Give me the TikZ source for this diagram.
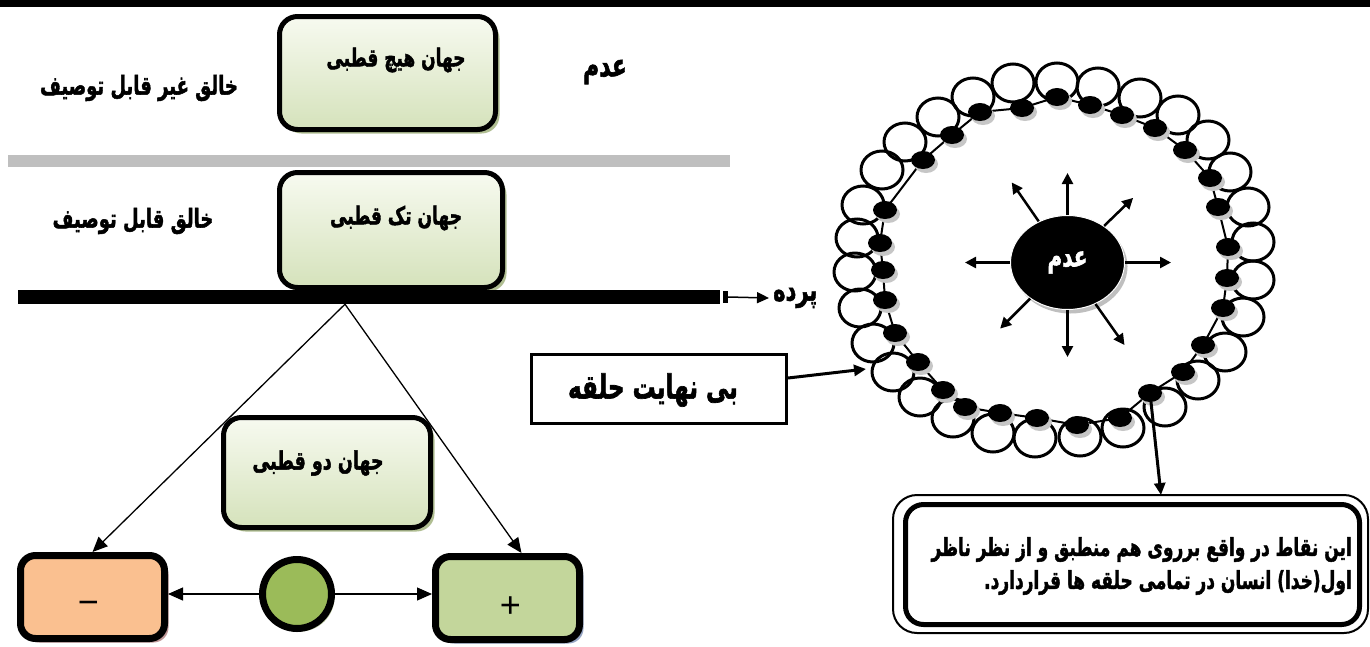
\documentclass[tikz,border=0pt]{standalone}
\usepackage{fontspec}
\usepackage{graphicx}
\usetikzlibrary{arrows.meta,shapes.geometric,shadows,calc}
\TeXXeTstate=1
\newfontfamily\fa[Script=Arabic, BoldFeatures={FakeBold=2}]{DejaVu Sans}
\newfontfamily\signfont{Liberation Sans}
\newcommand\fatx[1]{\scalebox{1}[1.45]{\fa\bfseries\beginR #1\endR}}
\definecolor{gtop}{RGB}{247,250,240}
\definecolor{gbot}{RGB}{213,226,187}
\definecolor{gshad}{RGB}{176,190,146}
\definecolor{peach}{RGB}{250,192,144}
\definecolor{peachsh}{RGB}{190,150,150}
\definecolor{lgreen}{RGB}{195,214,155}
\definecolor{lgreensh}{RGB}{150,165,195}
\definecolor{dgreen}{RGB}{155,187,89}
\definecolor{barg}{RGB}{191,191,191}
\tikzset{
  gbox/.style={draw, line width=5pt, rounded corners=18pt, top color=gtop, bottom color=gbot,
    general shadow={fill=gshad, shadow xshift=4pt, shadow yshift=-4pt}, inner sep=0pt},
  pbox/.style={draw, line width=7pt, rounded corners=15pt, inner sep=0pt,
    minimum width=144pt, minimum height=83pt},
  lbl/.style={inner sep=0pt, font=\fontsize{18}{22}\selectfont},
  sign/.style={inner sep=0pt, font=\signfont\fontsize{36}{36}\selectfont},
  thinarr/.style={line width=1.3pt, -{Triangle[length=15pt,width=13pt]}},
  thkarr/.style={line width=3pt, -{Triangle[length=12pt,width=11pt]}},
  radarr/.style={line width=2.5pt, -{Triangle[length=11pt,width=11pt]}},
  ringc/.style={line width=3pt},
}
\begin{document}
\begin{tikzpicture}[x=1pt,y=-1pt]
\useasboundingbox (0,0) rectangle (1370,646);
\fill[white] (0,0) rectangle (1370,646);
% top band and bars
\fill[black] (0,0) rectangle (1370,7);
\fill[barg] (8,155) rectangle (730,167);
% upper boxes
\node[gbox, minimum width=216pt, minimum height=113pt] (hich) at (387.5,73) {};
\node[lbl, font=\fontsize{17}{22}\selectfont] (hicht) at (396,60) {\fatx{جهان هیچ قطبی}};
\node[lbl] (khalq1) at (139,88) {\fatx{خالق غیر قابل توصیف}};
\node[lbl, font=\fontsize{22}{26}\selectfont] (adamt) at (605,72) {\fatx{عدم}};
\node[gbox, minimum width=223pt, minimum height=115pt] (tak) at (391,230) {};
\node[lbl, font=\fontsize{17}{22}\selectfont] (takt) at (396,218) {\fatx{جهان تک قطبی}};
\node[lbl] (khalq2) at (133,221) {\fatx{خالق قابل توصیف}};
% curtain
\node[fill=black, minimum width=702pt, minimum height=14pt, inner sep=0pt] (curtain) at (369,297) {};
\node[lbl, font=\fontsize{21}{24}\selectfont, anchor=west] (parde) at (773,298) {\fatx{پرده}};
\fill[black] ([xshift=3pt,yshift=-1.5pt]curtain.north east) rectangle ([xshift=8pt,yshift=1.5pt]curtain.south east);
\draw[line width=1.5pt, -{Triangle[length=12pt,width=11pt]}] ([xshift=8pt]curtain.east) -- ([xshift=-4pt]parde.west);
\coordinate (split) at ([xshift=-24pt]curtain.south);
% bipolar world
\node[gbox, minimum width=207pt, minimum height=110pt] (du) at (327,472.5) {};
\node[lbl, font=\fontsize{17.5}{22}\selectfont] (dut) at (318,463) {\fatx{جهان دو قطبی}};
\node[pbox, fill=peach, general shadow={fill=peachsh, shadow xshift=4pt, shadow yshift=-4pt}] (minus) at (92.5,597) {};
\node[sign] (minust) at ([xshift=-4pt,yshift=-11pt]minus.center) {−};
\node[pbox, fill=lgreen, general shadow={fill=lgreensh, shadow xshift=4pt, shadow yshift=-4pt}] (plus) at (507.5,598) {};
\node[sign] (plust) at ([xshift=3pt,yshift=-9pt]plus.center) {+};
\node[circle, draw, line width=7pt, fill=dgreen, minimum size=69pt, inner sep=0pt,
  general shadow={fill=gshad, shadow xshift=3pt, shadow yshift=-3pt}] (gc) at (297,594) {};
\draw[thinarr] (split) -- (minus.north);
\draw[thinarr] (split) -- ([xshift=14pt]plus.north);
\draw[thinarr] (gc.west) -- (gc.west -| minus.east);
\draw[thinarr] (gc.east) -- (gc.east -| plus.west);
% ring of circles
\foreach \p in {(1013,83),(1057,82),(1098,87),(1140,98),(1178,115),(1208,140),(1230,172),(1248,207),(1253,242),(1253,280),(1243,317),(1225,352),(1198,380),(1165,407),(1123,428),(1080,437),(1035,438),(993,433),(953,418),(920,397),(893,372),(873,343),(860,308),(855,272),(857,238),(863,205),(882,170),(905,142),(938,117),(973,97)}
  \draw[ringc] \p ellipse [x radius=21pt, y radius=19pt];
\draw[line width=2pt] (885,210) -- (923,160) -- (952,135) -- (980,112) -- (1022,108) -- (1057,97) -- (1090,105) -- (1122,115) -- (1155,128) -- (1185,150) -- (1210,178) -- (1218,207) -- (1228,247) -- (1227,278) -- (1223,308) -- (1203,345) -- (1183,372) -- (1150,393) -- (1120,418) -- (1077,425) -- (1037,418) -- (1000,413) -- (965,407) -- (943,390) -- (918,362) -- (895,333) -- (885,300) -- (883,270) -- (880,243) -- cycle;
\foreach \p in {(885,210),(923,160),(952,135),(980,112),(1022,108),(1057,97),(1090,105),(1122,115),(1155,128),(1185,150),(1210,178),(1218,207),(1228,247),(1227,278),(1223,308),(1203,345),(1183,372),(1150,393),(1120,418),(1077,425),(1037,418),(1000,413),(965,407),(943,390),(918,362),(895,333),(885,300),(883,270),(880,243)}
  {\fill[gray!45] \p ++(3,4) ellipse [x radius=12pt, y radius=9pt];
   \fill[black] \p ellipse [x radius=12pt, y radius=9pt];}
% centre
\node[ellipse, fill=black, draw=white, line width=1pt, minimum width=114pt, minimum height=94pt, inner sep=0pt,
  general shadow={fill=gray!50, shadow xshift=3pt, shadow yshift=-4pt}] (adam) at (1067.5,262.5) {\color{white}\fontsize{20}{24}\selectfont\fatx{عدم}};
\draw[radarr] (adam.north) -- ++(0,-42);
\draw[radarr] (adam.125) -- ++(-27,-39);
\draw[radarr] (adam.45) -- ++(29,-28);
\draw[radarr] (adam.west) -- ++(-45,0);
\draw[radarr] (adam.east) -- ++(46,0);
\draw[radarr] (adam.224) -- ++(-30,30);
\draw[radarr] (adam.south) -- ++(0,47);
\draw[radarr] (adam.304) -- ++(29,41);
% infinite ring label
\node[draw, line width=3pt, minimum width=255pt, minimum height=69pt, inner sep=0pt] (inf) at (659,389) {};
\node[lbl, font=\fontsize{23}{26}\selectfont] (inft) at (653,390) {\fatx{بی نهایت حلقه}};
\coordinate (ringin) at (866,369);
\draw[thkarr] ([yshift=11pt]inf.east) -- (ringin);
% note
\node[draw, line width=5pt, rounded corners=18pt, minimum width=454pt, minimum height=120pt, inner sep=0pt] (note) at (1132.5,564.5) {};
\draw[line width=2pt, rounded corners=24pt] ([shift={(-10pt,7pt)}]note.north west) rectangle ([shift={(6pt,-6pt)}]note.south east);
\node[lbl, font=\fontsize{17}{33}\selectfont, align=right, anchor=east] (notet) at (1352,566) {\fatx{این نقاط در واقع برروی هم منطبق و از نظر ناظر}\\\fatx{اول(خدا) انسان در تمامی حلقه ها قراردارد.}};
\coordinate (dotA) at (1150,393);
\coordinate (notetop) at (1161,495);
\draw[thkarr] (dotA) -- (notetop);
\end{tikzpicture}
\end{document}
